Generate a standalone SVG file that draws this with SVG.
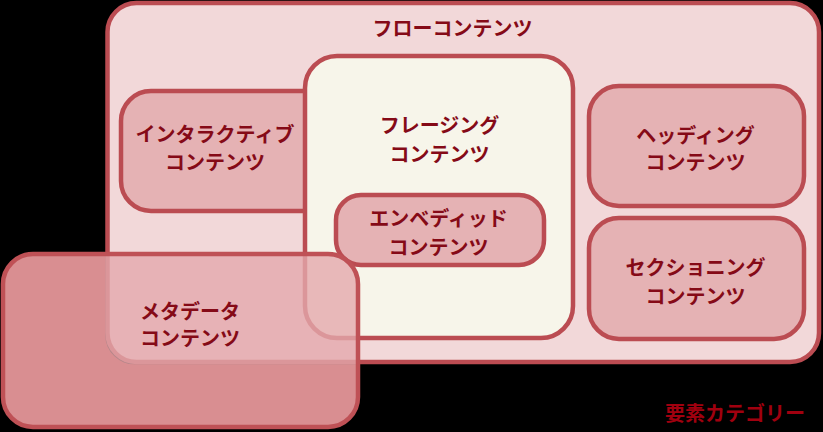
<svg xmlns="http://www.w3.org/2000/svg" width="823" height="432" viewBox="0 0 823 432">
<style>
.box{stroke:#bb4c52;stroke-width:4.5}
.flow{fill:#f2d8d9}
.cat{fill:#e5b2b4}
.phr{fill:#f7f5ea}
.lbl{font-family:"Noto Sans CJK JP","Noto Sans",sans-serif;font-weight:bold;font-size:20px;fill:#850a17;text-anchor:middle;dominant-baseline:central}
.legend{font-family:"Noto Sans CJK JP","Noto Sans",sans-serif;font-weight:bold;font-size:20px;fill:#a0000f;text-anchor:middle;dominant-baseline:central}
</style>
<defs>
<clipPath id="metaClip"><rect x="3" y="254" width="355" height="173" rx="30"/></clipPath>
</defs>
<rect x="0" y="0" width="823" height="432" fill="#000"/>
<g id="flow">
<rect class="box flow" x="107.5" y="3" width="711.5" height="359" rx="29"/>
<text class="lbl" x="452.5" y="27.5">フローコンテンツ</text>
</g>
<g id="interactive">
<rect class="box cat" x="121" y="91" width="215" height="120" rx="30"/>
<text class="lbl" x="215" y="133">インタラクティブ</text>
<text class="lbl" x="215" y="161.5">コンテンツ</text>
</g>
<g id="phrasing">
<rect class="box phr" x="305" y="56" width="268" height="282" rx="32"/>
<text class="lbl" x="439.5" y="124">フレージング</text>
<text class="lbl" x="439.5" y="153">コンテンツ</text>
</g>
<g id="embedded">
<rect class="box cat" x="336" y="195" width="208" height="70" rx="25"/>
<text class="lbl" x="438.5" y="217">エンベディッド</text>
<text class="lbl" x="438.5" y="246.5">コンテンツ</text>
</g>
<g id="heading">
<rect class="box cat" x="589" y="86" width="215" height="120" rx="30"/>
<text class="lbl" x="695.5" y="134">ヘッディング</text>
<text class="lbl" x="695.5" y="161.5">コンテンツ</text>
</g>
<g id="sectioning">
<rect class="box cat" x="589" y="218" width="215" height="121" rx="30"/>
<text class="lbl" x="695.5" y="266.5">セクショニング</text>
<text class="lbl" x="695.5" y="295">コンテンツ</text>
</g>
<g id="metadata">
<rect x="3" y="254" width="355" height="173" rx="30" fill="#e4a9ac" fill-opacity="0.8"/>
<path clip-path="url(#metaClip)" fill="#d98e91" fill-rule="evenodd" d="M33,254 H328 A30 30 0 0 1 358,284 V397 A30 30 0 0 1 328,427 H33 A30 30 0 0 1 3,397 V284 A30 30 0 0 1 33,254 Z M135.5,0.75 H791.5 A29 29 0 0 1 821.25,30 V335 A29 29 0 0 1 791.5,364.25 H135.5 A29 29 0 0 1 105.25,335 V30 A29 29 0 0 1 135.5,0.75 Z"/>
<rect x="3" y="254" width="355" height="173" rx="30" fill="none" stroke="#bf5156" stroke-width="4.5"/>
<text class="lbl" x="190" y="310">メタデータ</text>
<text class="lbl" x="190" y="337.5">コンテンツ</text>
</g>
<g id="connectors"/>
<text class="legend" x="735" y="412">要素カテゴリー</text>
</svg>
